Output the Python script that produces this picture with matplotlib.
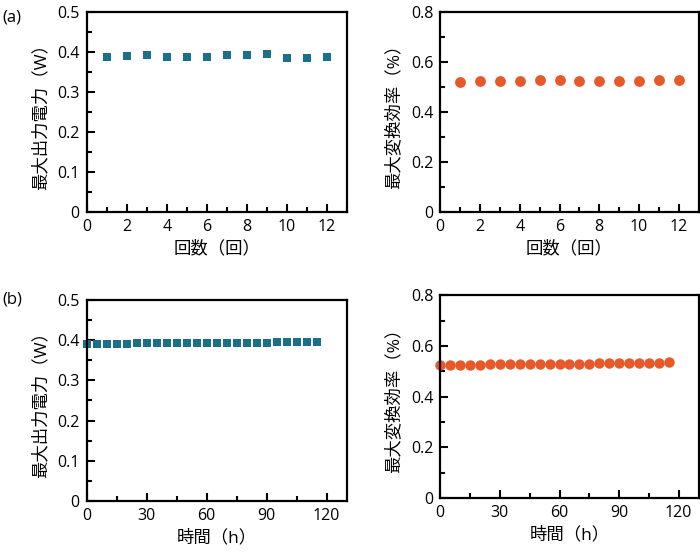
import numpy as np
import matplotlib.pyplot as plt
from matplotlib.ticker import MultipleLocator, FuncFormatter

plt.rcParams['font.family'] = ['Open Sans', 'Noto Sans CJK JP', 'DejaVu Sans']

# (a) repeated runs
runs = [1, 2, 3, 4, 5, 6, 7, 8, 9, 10, 11, 12]
power_runs = [0.387, 0.390, 0.392, 0.387, 0.387, 0.388, 0.392, 0.394, 0.395, 0.386, 0.386, 0.387]
eff_runs = [0.521, 0.526, 0.526, 0.526, 0.527, 0.527, 0.523, 0.526, 0.526, 0.526, 0.527, 0.527]

# (b) continuous operation
hours = [0, 5, 10, 15, 20, 25, 30, 35, 40, 45, 50, 55, 60, 65, 70, 75, 80, 85, 90, 95, 100, 105, 110, 115]
power_hours = [0.390, 0.391, 0.391, 0.391, 0.391, 0.392, 0.392, 0.392, 0.392, 0.393, 0.393, 0.393,
               0.393, 0.393, 0.394, 0.394, 0.394, 0.394, 0.394, 0.395, 0.395, 0.395, 0.395, 0.395]
eff_hours = [0.525, 0.525, 0.526, 0.526, 0.526, 0.527, 0.527, 0.527, 0.528, 0.528, 0.528, 0.529,
             0.529, 0.530, 0.530, 0.530, 0.531, 0.531, 0.532, 0.532, 0.533, 0.533, 0.534, 0.535]

teal = '#1b6f88'
orange = '#e8592a'

fig = plt.figure(figsize=(7, 5.57), dpi=100)

def fmt(v, pos):
    if abs(v) < 1e-9:
        return '0'
    return '%g' % round(v, 3)

def style(ax, xmax, xmaj, xmin, ymax, ymaj, ymin):
    ax.set_xticks(np.arange(0, xmax, xmaj))
    ax.xaxis.set_minor_locator(MultipleLocator(xmin))
    ax.yaxis.set_major_locator(MultipleLocator(ymaj))
    ax.yaxis.set_minor_locator(MultipleLocator(ymin))
    ax.xaxis.set_major_formatter(FuncFormatter(fmt))
    ax.yaxis.set_major_formatter(FuncFormatter(fmt))
    ax.set_xlim(0, xmax)
    ax.set_ylim(0, ymax)
    ax.tick_params(which='both', direction='in', top=False, right=False, width=1.5, labelsize=11.5, pad=5)
    ax.tick_params(which='major', length=6)
    ax.tick_params(which='minor', length=3.5)
    for s in ax.spines.values():
        s.set_linewidth(1.6)

ax1 = fig.add_axes([0.124, 0.619, 0.371, 0.359])
ax1.plot(runs, power_runs, 's', color=teal, ms=6.2, mew=0, clip_on=False)
style(ax1, 13, 2, 1, 0.5, 0.1, 0.05)
ax1.set_xlabel('回数（回）', fontsize=12.5, labelpad=4)
ax1.set_ylabel('最大出力電力（W）', fontsize=12.5, labelpad=6)

ax2 = fig.add_axes([0.629, 0.619, 0.369, 0.359])
ax2.plot(runs, eff_runs, 'o', color=orange, ms=7.8, mew=0, clip_on=False)
style(ax2, 13, 2, 1, 0.8, 0.2, 0.1)
ax2.set_xlabel('回数（回）', fontsize=12.5, labelpad=4)
ax2.set_ylabel('最大変換効率（%）', fontsize=12.5, labelpad=6)

ax3 = fig.add_axes([0.124, 0.1005, 0.371, 0.361])
ax3.plot(hours, power_hours, 's', color=teal, ms=5.8, mew=0, clip_on=False)
style(ax3, 130, 30, 15, 0.5, 0.1, 0.05)
ax3.set_xlabel('時間（h）', fontsize=12.5, labelpad=4)
ax3.set_ylabel('最大出力電力（W）', fontsize=12.5, labelpad=6)

ax4 = fig.add_axes([0.629, 0.106, 0.369, 0.364])
ax4.plot(hours, eff_hours, 'o', color=orange, ms=7.5, mew=0, clip_on=False)
style(ax4, 130, 30, 15, 0.8, 0.2, 0.1)
ax4.set_xlabel('時間（h）', fontsize=12.5, labelpad=4)
ax4.set_ylabel('最大変換効率（%）', fontsize=12.5, labelpad=6)

fig.text(0.004, 0.968, '(a)', fontsize=12, va='center', ha='left')
fig.text(0.004, 0.462, '(b)', fontsize=12, va='center', ha='left')

fig.savefig('out.png', dpi=100)
